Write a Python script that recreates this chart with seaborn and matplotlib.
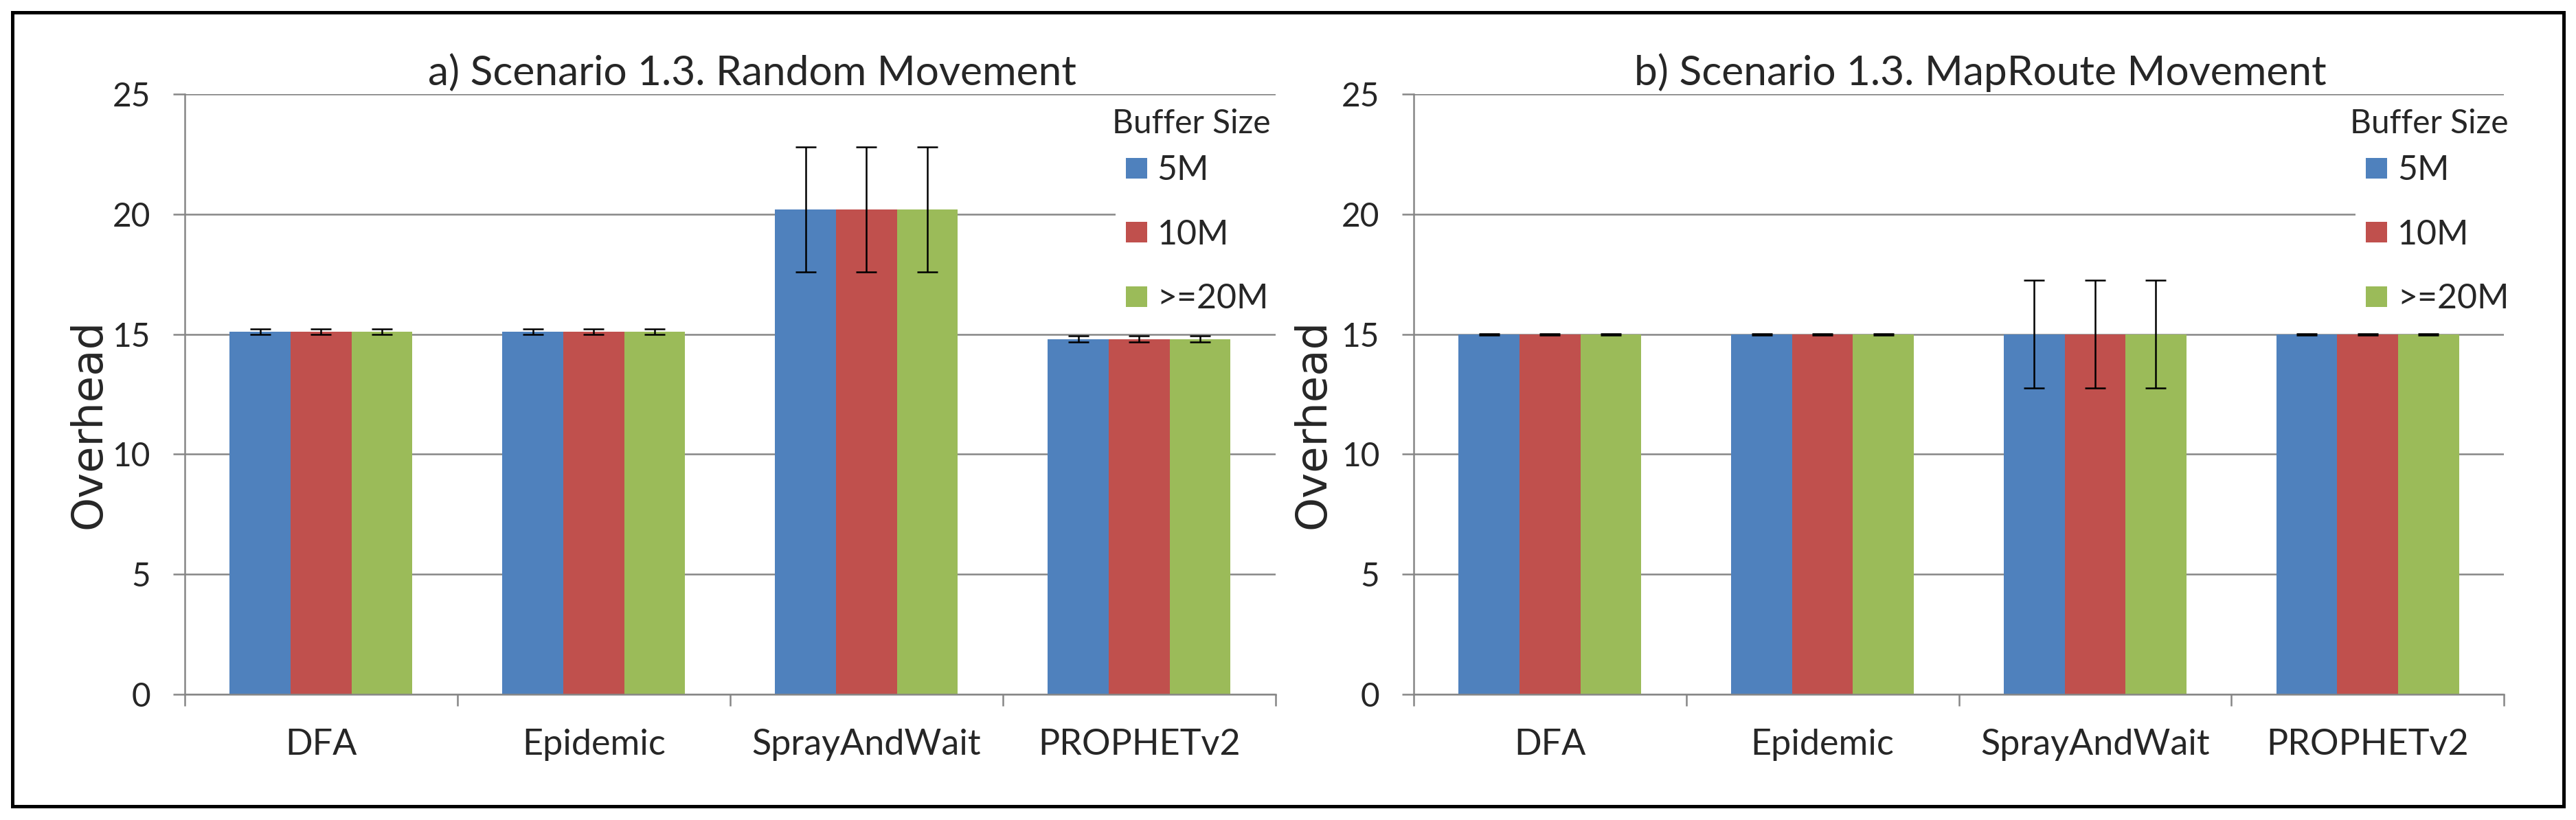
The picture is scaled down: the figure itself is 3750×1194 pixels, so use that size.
import matplotlib
matplotlib.use("Agg")
import matplotlib.pyplot as plt
import pandas as pd
import seaborn as sns
from matplotlib.patches import Rectangle

categories = ["DFA", "Epidemic", "SprayAndWait", "PROPHETv2"]
buffers = ["5M", "10M", ">=20M"]
colors = ["#4F81BD", "#C0504D", "#9BBB59"]

random_vals = [15.1, 15.1, 20.2, 14.8]
random_err = [0.12, 0.12, 2.6, 0.12]
maproute_vals = [15.0, 15.0, 15.0, 15.0]
maproute_err = [0.03, 0.03, 2.25, 0.03]

titles = ["a) Scenario 1.3. Random Movement", "b) Scenario 1.3. MapRoute Movement"]


def long_table(vals, errs):
    rows = []
    for b in buffers:
        for c, v, e in zip(categories, vals, errs):
            rows.append({"protocol": c, "buffer": b, "overhead": v, "err": e})
    return pd.DataFrame(rows)


sns.set_theme(style="white")
plt.rcParams["font.family"] = ["Lato", "DejaVu Sans"]
grid_col = "#868686"

fig = plt.figure(figsize=(12.5, 3.98), dpi=300)
axes = [fig.add_axes([0.0717, 0.1533, 0.4235, 0.732]),
        fig.add_axes([0.5488, 0.1533, 0.4232, 0.732])]

panels = [(random_vals, random_err), (maproute_vals, maproute_err)]
ylab_x = [-0.0875, -0.0926]
leg_x = [0.853, 0.864]
legtitle_x = [0.850, 0.859]

for ax, (vals, errs), title, lx, gx, tx in zip(axes, panels, titles, ylab_x,
                                               leg_x, legtitle_x):
    df = long_table(vals, errs)
    sns.barplot(data=df, x="protocol", y="overhead", hue="buffer",
                order=categories, hue_order=buffers, palette=colors,
                width=0.67, gap=0, errorbar=None, linewidth=0,
                saturation=1, ax=ax, zorder=2)

    # error bars on top of each bar
    for cont, b in zip(ax.containers, buffers):
        sub = df[df["buffer"] == b]
        for bar, e in zip(cont, sub["err"]):
            ax.errorbar(bar.get_x() + bar.get_width() / 2, bar.get_height(),
                        yerr=e, fmt="none", ecolor="black", elinewidth=0.6,
                        capsize=3.6, capthick=0.6, zorder=3)

    ax.set_ylim(0, 25)
    ax.set_xlim(-0.5, 3.5)
    ax.set_yticks(range(0, 26, 5))
    ax.yaxis.grid(True, color=grid_col, lw=0.6)
    ax.set_axisbelow(True)
    for s in ["top", "right"]:
        ax.spines[s].set_visible(False)
    for s in ["left", "bottom"]:
        ax.spines[s].set_color(grid_col)
        ax.spines[s].set_linewidth(0.6)

    ax.tick_params(axis="y", which="major", direction="out", length=4.2,
                   width=0.6, color=grid_col, pad=7.8, labelsize=11.5,
                   left=True)
    ax.set_xticks([-0.5, 0.5, 1.5, 2.5, 3.5])
    ax.set_xticklabels([])
    ax.set_xticks(range(len(categories)), minor=True)
    ax.set_xticklabels(categories, minor=True)
    ax.tick_params(axis="x", which="major", direction="out", length=4,
                   width=0.6, color=grid_col, bottom=True)
    ax.tick_params(axis="x", which="minor", length=0, pad=12, labelsize=12.5)

    ax.set_xlabel("")
    ax.set_ylabel("Overhead", fontsize=15, family=["DejaVu Sans"])
    ax.yaxis.label.set_va("center")
    ax.yaxis.set_label_coords(lx, 0.45)

    ax.set_title(title, fontsize=14.5, pad=3, x=0.52)

    sns.move_legend(ax, "upper left", bbox_to_anchor=(gx, 0.916),
                    title=None, frameon=True, fontsize=12,
                    handlelength=0.62, handleheight=0.55,
                    handletextpad=0.3, labelspacing=0.95, borderpad=0.3,
                    borderaxespad=0, fancybox=False)
    leg = ax.get_legend()
    leg.get_frame().set_edgecolor("none")
    leg.get_frame().set_facecolor("white")
    leg.get_frame().set_alpha(1)
    ax.text(tx, 0.951, "Buffer Size", transform=ax.transAxes,
            ha="left", va="center", fontsize=11.5, zorder=6)

fig.patches.append(Rectangle((0.0048, 0.0168), 0.9904, 0.968,
                             transform=fig.transFigure, fill=False,
                             edgecolor="black", linewidth=1.2))

fig.savefig("out.png", dpi=300, facecolor="white")
